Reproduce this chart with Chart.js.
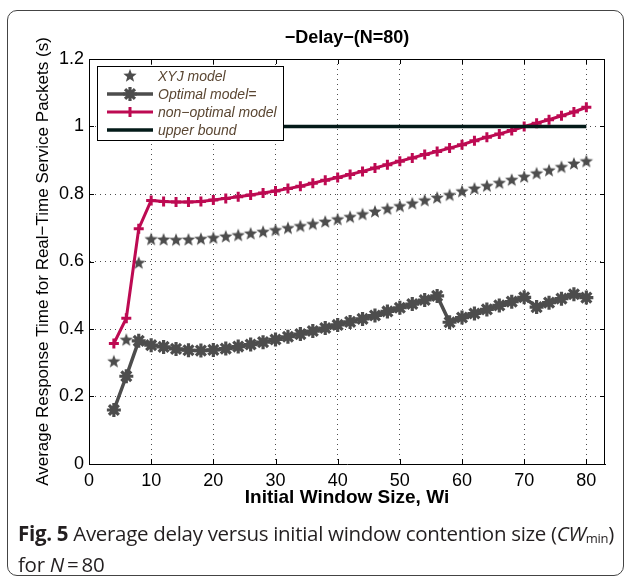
<!DOCTYPE html>
<html>
<head>
<meta charset="utf-8">
<script src="https://cdn.jsdelivr.net/npm/chart.js@4/dist/chart.umd.min.js"></script>
<style>
  html, body { margin: 0; padding: 0; background: #fff; }
  #wrap { position: relative; width: 627px; height: 582px; overflow: hidden; }
  #frame { position: absolute; left: 7px; top: 10px; width: 617px; height: 566px;
           border: 1.5px solid #444; border-radius: 10px; box-sizing: border-box; }
  #chart { position: absolute; left: 0; top: 0; }
  #caption { position: absolute; left: 18px; top: 520px; width: 600px;
             font-family: "Open Sans", "Noto Sans", sans-serif; font-size: 20.5px;
             line-height: 26px; color: #231f20; letter-spacing: -0.3px; }
  #caption b { font-weight: 700; }
</style>
</head>
<body>
<div id="wrap">
  <div id="frame"></div>
  <canvas id="chart" width="627" height="520"></canvas>
  <div id="caption"><b>Fig. 5</b> Average delay versus initial window contention size (<i>CW</i><sub style="font-size:13px;vertical-align:-2px">min</sub>) for <i>N</i>&#8201;=&#8201;80</div>
</div>
<script>
const windowSizes = [4, 6, 8, 10, 12, 14, 16, 18, 20, 22, 24, 26, 28, 30, 32, 34, 36, 38, 40, 42,
  44, 46, 48, 50, 52, 54, 56, 58, 60, 62, 64, 66, 68, 70, 72, 74, 76, 78, 80];
const xyjDelay = [0.303, 0.367, 0.595, 0.665, 0.664, 0.663, 0.664, 0.666, 0.669, 0.673,
  0.677, 0.682, 0.687, 0.692, 0.698, 0.704, 0.710, 0.717, 0.724, 0.731,
  0.739, 0.747, 0.755, 0.763, 0.771, 0.780, 0.788, 0.796, 0.807, 0.815,
  0.823, 0.832, 0.841, 0.850, 0.860, 0.869, 0.879, 0.889, 0.896];
const optimalDelay = [0.160, 0.260, 0.365, 0.352, 0.347, 0.341, 0.337, 0.336, 0.338, 0.342,
  0.348, 0.354, 0.361, 0.369, 0.377, 0.385, 0.394, 0.403, 0.412, 0.421,
  0.430, 0.440, 0.452, 0.463, 0.474, 0.486, 0.498, 0.420, 0.434, 0.446,
  0.458, 0.470, 0.481, 0.494, 0.465, 0.478, 0.490, 0.503, 0.493];
const nonOptimalDelay = [0.357, 0.432, 0.697, 0.781, 0.778, 0.776, 0.776, 0.778, 0.782, 0.787,
  0.792, 0.797, 0.803, 0.809, 0.816, 0.823, 0.832, 0.841, 0.849, 0.858,
  0.867, 0.877, 0.887, 0.897, 0.907, 0.917, 0.926, 0.936, 0.946, 0.958,
  0.968, 0.978, 0.988, 1.000, 1.010, 1.020, 1.032, 1.043, 1.057];
const boundX = [4, 80];
const boundY = [1, 1];
const xTicks = [0, 10, 20, 30, 40, 50, 60, 70, 80];
const yTicks = [0, 0.2, 0.4, 0.6, 0.8, 1, 1.2];
const chartTitle = '\u2212Delay\u2212(N=80)';
const legendLabels = ['XYJ model', 'Optimal model=', 'non\u2212optimal model', 'upper bound'];

const GRAY = '#4d4d4d';
const CRIMSON = '#bd0a52';
const DARK = '#031a18';
const LEGEND_TEXT = '#5a4632';
const FONT = '"Liberation Sans", Arial, sans-serif';

function pairs(xs, ys) { return xs.map((x, i) => ({ x, y: ys[i] })); }

function makeStar(r, color) {
  const s = Math.ceil(r * 2 + 2);
  const c = document.createElement('canvas');
  c.width = c.height = s;
  const g = c.getContext('2d');
  g.fillStyle = color;
  g.beginPath();
  for (let i = 0; i < 10; i++) {
    const rad = i % 2 ? r * 0.42 : r;
    const a = -Math.PI / 2 + i * Math.PI / 5;
    g.lineTo(s / 2 + rad * Math.cos(a), s / 2 + rad * Math.sin(a));
  }
  g.closePath();
  g.fill();
  return c;
}
const starImg = makeStar(7, GRAY);

function drawAsterisk(ctx, x, y, r, w, color) {
  ctx.save();
  ctx.strokeStyle = color; ctx.lineWidth = w;
  ctx.beginPath();
  for (let k = 0; k < 4; k++) {
    const a = k * Math.PI / 4;
    ctx.moveTo(x - r * Math.cos(a), y - r * Math.sin(a));
    ctx.lineTo(x + r * Math.cos(a), y + r * Math.sin(a));
  }
  ctx.stroke();
  ctx.restore();
}

// box, inward ticks, title and the legend, as MATLAB draws them
const matlabFrame = {
  id: 'matlabFrame',
  afterDraw(chart) {
    const { ctx, chartArea: a, scales } = chart;
    ctx.save();
    ctx.strokeStyle = '#000';
    ctx.lineWidth = 1;
    ctx.beginPath();
    ctx.moveTo(a.left, a.top + 0.5); ctx.lineTo(a.right, a.top + 0.5);
    ctx.moveTo(a.right - 0.5, a.top); ctx.lineTo(a.right - 0.5, a.bottom);
    xTicks.forEach(v => {
      const px = Math.round(scales.x.getPixelForValue(v)) + 0.5;
      ctx.moveTo(px, a.bottom); ctx.lineTo(px, a.bottom - 5);
      ctx.moveTo(px, a.top); ctx.lineTo(px, a.top + 5);
    });
    yTicks.forEach(v => {
      const py = Math.round(scales.y.getPixelForValue(v)) + 0.5;
      ctx.moveTo(a.left, py); ctx.lineTo(a.left + 5, py);
      ctx.moveTo(a.right, py); ctx.lineTo(a.right - 5, py);
    });
    ctx.stroke();

    // title centred over the axes
    ctx.fillStyle = '#000';
    ctx.font = 'bold 18px ' + FONT;
    ctx.textAlign = 'center';
    ctx.textBaseline = 'middle';
    ctx.fillText(chartTitle, (a.left + a.right) / 2, 38);

    // legend
    const L = { x: 97, y: 66, w: 186, h: 74 };
    ctx.fillStyle = '#fff';
    ctx.fillRect(L.x, L.y, L.w, L.h);
    ctx.strokeRect(L.x + 0.5, L.y + 0.5, L.w, L.h);
    const rows = [76, 94, 112, 130];
    const x0 = 107, x1 = 153, xm = 130;
    ctx.drawImage(starImg, xm - starImg.width / 2, rows[0] - starImg.height / 2);
    ctx.lineCap = 'butt';
    ctx.strokeStyle = GRAY; ctx.lineWidth = 3.5;
    ctx.beginPath(); ctx.moveTo(x0, rows[1]); ctx.lineTo(x1, rows[1]); ctx.stroke();
    drawAsterisk(ctx, xm, rows[1], 7, 3.2, GRAY);
    ctx.strokeStyle = CRIMSON; ctx.lineWidth = 3;
    ctx.beginPath(); ctx.moveTo(x0, rows[2]); ctx.lineTo(x1, rows[2]);
    ctx.moveTo(xm, rows[2] - 5); ctx.lineTo(xm, rows[2] + 5); ctx.stroke();
    ctx.strokeStyle = DARK; ctx.lineWidth = 3.5;
    ctx.beginPath(); ctx.moveTo(x0, rows[3]); ctx.lineTo(x1, rows[3]); ctx.stroke();

    ctx.fillStyle = LEGEND_TEXT;
    ctx.font = 'italic 14px ' + FONT;
    ctx.textAlign = 'left';
    ctx.textBaseline = 'middle';
    legendLabels.forEach((t, i) => ctx.fillText(t, 158, rows[i] + 1));
    ctx.restore();
  }
};

const tickFont = { family: FONT, size: 18 };

new Chart(document.getElementById('chart'), {
  type: 'line',
  data: {
    datasets: [
      {
        label: legendLabels[0],
        data: pairs(windowSizes, xyjDelay),
        showLine: false,
        pointStyle: starImg,
        pointRadius: 7,
        order: 3
      },
      {
        label: legendLabels[1],
        data: pairs(windowSizes, optimalDelay),
        borderColor: GRAY,
        borderWidth: 3.5,
        pointStyle: 'star',
        pointRadius: 7,
        pointBorderWidth: 3.2,
        pointBorderColor: GRAY,
        pointBackgroundColor: GRAY,
        order: 2
      },
      {
        label: legendLabels[2],
        data: pairs(windowSizes, nonOptimalDelay),
        borderColor: CRIMSON,
        borderWidth: 3,
        pointStyle: 'cross',
        pointRadius: 5,
        pointBorderWidth: 3,
        pointBorderColor: CRIMSON,
        order: 1
      },
      {
        label: legendLabels[3],
        data: pairs(boundX, boundY),
        borderColor: DARK,
        borderWidth: 3.5,
        pointRadius: 0,
        order: 0
      }
    ]
  },
  options: {
    responsive: false,
    animation: false,
    layout: { padding: { left: 0, right: 22, top: 59, bottom: 0 } },
    plugins: {
      legend: { display: false },
      tooltip: { enabled: false },
      title: { display: false }
    },
    scales: {
      x: {
        type: 'linear',
        min: 0,
        max: 83,
        afterFit: s => { s.height = 56; },
        ticks: {
          stepSize: 10, includeBounds: false, autoSkip: false, maxRotation: 0,
          color: '#000', font: tickFont, padding: 6
        },
        grid: { color: 'rgba(0,0,0,0.7)', lineWidth: 1, drawTicks: false },
        border: { display: true, color: '#000', width: 1, dash: [1, 4] },
        title: {
          display: true,
          text: 'Initial Window Size, Wi',
          color: '#000',
          font: { family: FONT, size: 19, weight: 'bold' },
          padding: { top: 0, bottom: 11 }
        }
      },
      y: {
        min: 0,
        max: 1.2,
        afterFit: s => { s.width = 89; },
        ticks: {
          stepSize: 0.2, color: '#000', font: tickFont, padding: 5,
          callback: v => String(+v.toFixed(1))
        },
        grid: { color: 'rgba(0,0,0,0.7)', lineWidth: 1, drawTicks: false },
        border: { display: true, color: '#000', width: 1, dash: [1, 4] },
        title: {
          display: true,
          text: 'Average Response Time for Real\u2212Time Service Packets (s)',
          color: '#000',
          font: { family: FONT, size: 17 },
          padding: { top: 33, bottom: 0 }
        }
      }
    }
  },
  plugins: [matlabFrame]
});
</script>
</body>
</html>
